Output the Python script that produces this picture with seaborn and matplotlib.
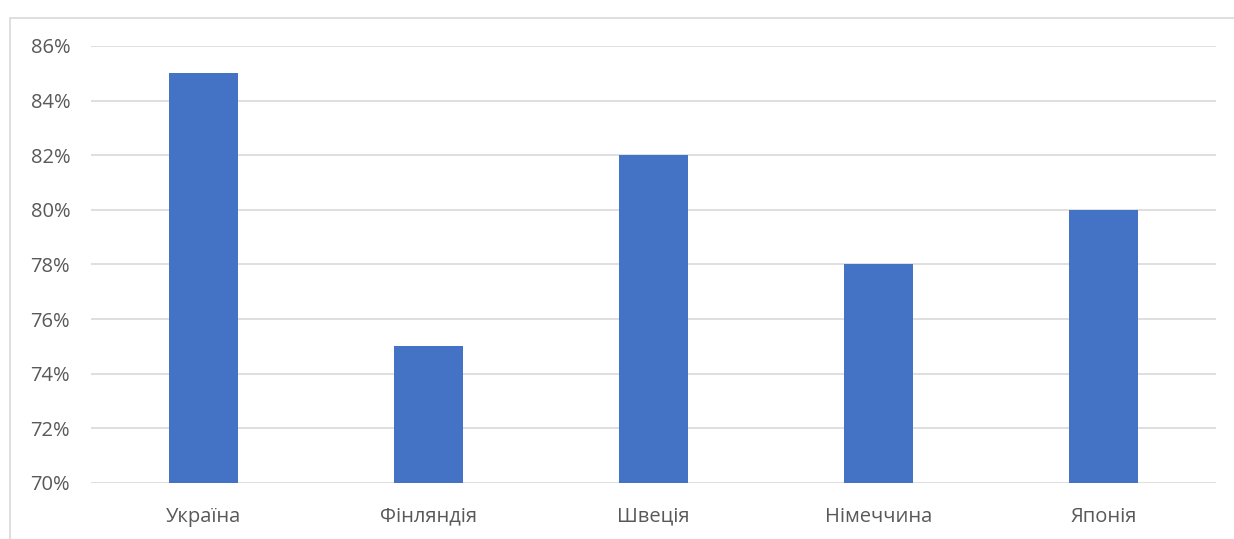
import matplotlib
matplotlib.use('Agg')
import matplotlib.pyplot as plt
import seaborn as sns
import pandas as pd
from matplotlib.patches import Rectangle
from matplotlib.ticker import FuncFormatter, MultipleLocator

# data
countries = ['Україна', 'Фінляндія', 'Швеція', 'Німеччина', 'Японія']
values = [85, 75, 82, 78, 80]

df = pd.DataFrame({'country': countries, 'value': values})

sns.set_style('white')
plt.rcParams['font.family'] = ['Open Sans', 'DejaVu Sans']

W, H = 1234, 539
fig = plt.figure(figsize=(W / 100, H / 100), dpi=100)
ax = fig.add_axes([91 / W, 1 - 483 / H, (1216 - 91) / W, (483 - 46) / H])

sns.barplot(data=df, x='country', y='value', color='#4472C4', width=0.31,
            saturation=1, linewidth=0, ax=ax, zorder=3)

ax.set_ylim(70, 86)
ax.yaxis.set_major_locator(MultipleLocator(2))
ax.yaxis.set_major_formatter(FuncFormatter(lambda v, p: f'{v:.0f}%'))
ax.grid(axis='y', color='#d9d9d9', linewidth=1.2, zorder=0)
ax.set_axisbelow(True)
for s in ax.spines.values():
    s.set_visible(False)
ax.set_xlabel('')
ax.set_ylabel('')
ax.tick_params(axis='both', length=0, labelsize=14.5, labelcolor='#595959')
ax.tick_params(axis='y', pad=15)
ax.tick_params(axis='x', pad=17)

# outer chart border
fig.patches.append(Rectangle((10.5 / W, -0.1), 1.2, (H - 17.5) / H + 0.1,
                             transform=fig.transFigure, fill=False,
                             edgecolor='#d9d9d9', linewidth=1.2))

fig.savefig('out.png', dpi=100)
